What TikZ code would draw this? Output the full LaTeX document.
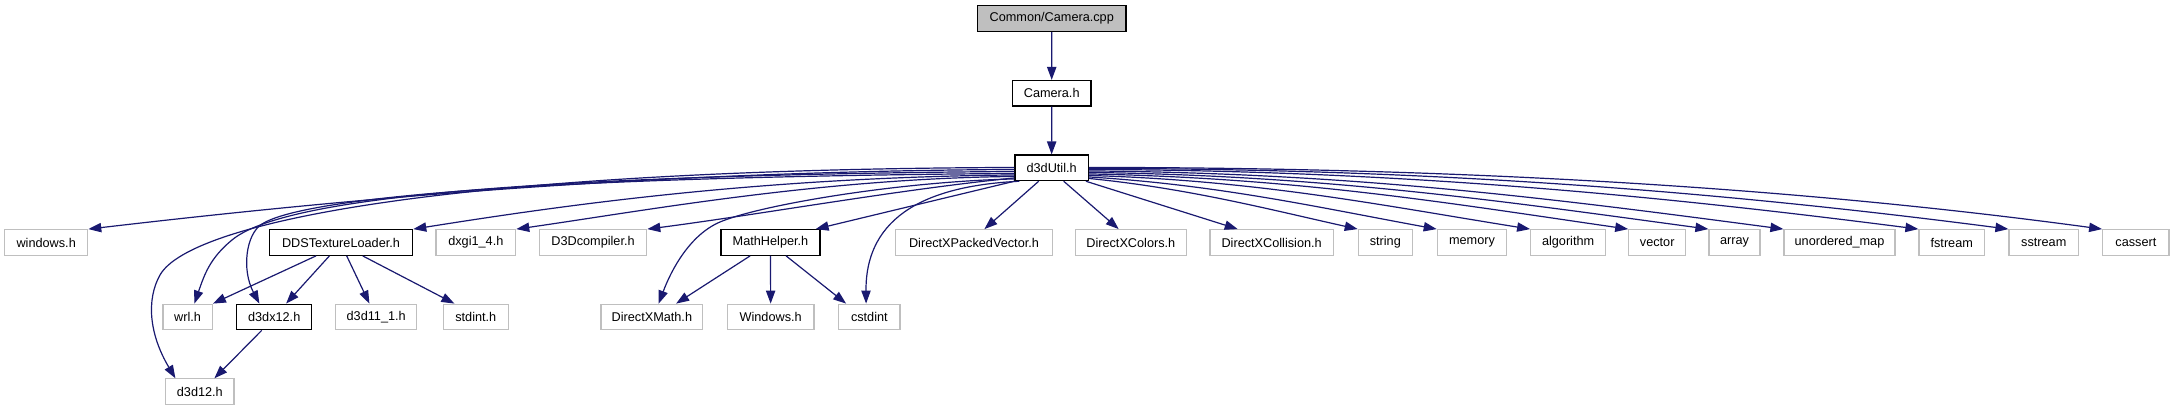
\documentclass[tikz,border=0pt]{standalone}
\usepackage{fontspec}
\setmainfont{Liberation Sans}
\usetikzlibrary{arrows.meta,calc}
\definecolor{edgeblue}{HTML}{191970}
\definecolor{grayline}{HTML}{BFBFBF}
\begin{document}
\begin{tikzpicture}[x=1pt,y=-1pt,
  box/.style={draw, line width=1.2pt, inner sep=0pt, minimum height=25.6pt, font=\fontsize{12.7}{14}\selectfont, anchor=center},
  extbox/.style={box, draw=grayline},
  intbox/.style={box, draw=black},
  rootbox/.style={box, draw=black, fill=grayline},
  dep/.style={draw=edgeblue, line width=1.2pt, -{Triangle[length=13pt,width=9.3pt]}}]
\useasboundingbox[fill=white] (0,0) rectangle (2174,411);
% row 0-2
\node[rootbox, minimum width=148.5pt] (cpp) at (1051.75,18.7) {Common/Camera.cpp};
\node[intbox, minimum width=78.6pt] (camh) at (1051.7,93.3) {Camera.h};
\node[intbox, minimum width=73.3pt] (d3d) at (1051.65,167.85) {d3dUtil.h};
% row 3
\node[extbox, minimum width=83pt] (windows) at (46.2,242.5) {windows.h};
\node[intbox, minimum width=143.4pt] (dds) at (341,242.5) {DDSTextureLoader.h};
\node[extbox, minimum width=79.7pt] (dxgi) at (475.85,242.5) {dxgi1\_4.h};
\node[extbox, minimum width=107.4pt] (d3dc) at (593,242.5) {D3Dcompiler.h};
\node[intbox, minimum width=99pt] (mh) at (770.5,242.5) {MathHelper.h};
\node[extbox, minimum width=156.6pt] (dxpv) at (974,242.5) {DirectXPackedVector.h};
\node[extbox, minimum width=111pt] (dxcol) at (1130.8,242.5) {DirectXColors.h};
\node[extbox, minimum width=123.3pt] (dxcoll) at (1271.65,242.5) {DirectXCollision.h};
\node[extbox, minimum width=54pt] (string) at (1385.3,242.5) {string};
\node[extbox, minimum width=69.4pt] (memory) at (1472,242.5) {memory};
\node[extbox, minimum width=74.8pt] (algorithm) at (1568.1,242.5) {algorithm};
\node[extbox, minimum width=56.8pt] (vector) at (1657.2,242.5) {vector};
\node[extbox, minimum width=51pt] (array) at (1734.5,242.5) {array};
\node[extbox, minimum width=111pt] (umap) at (1839.5,242.5) {unordered\_map};
\node[extbox, minimum width=65.5pt] (fstream) at (1951.75,242.5) {fstream};
\node[extbox, minimum width=69.5pt] (sstream) at (2043.75,242.5) {sstream};
\node[extbox, minimum width=66.3pt] (cassert) at (2135.85,242.5) {cassert};
% row 4
\node[extbox, minimum width=49.3pt] (wrl) at (187.65,317) {wrl.h};
\node[intbox, minimum width=75pt] (d3dx12) at (274.2,317) {d3dx12.h};
\node[extbox, minimum width=81pt] (d3d11) at (376.2,317) {d3d11\_1.h};
\node[extbox, minimum width=65pt] (stdint) at (475.8,317) {stdint.h};
\node[extbox, minimum width=101.7pt] (dxmath) at (651.85,317) {DirectXMath.h};
\node[extbox, minimum width=86.7pt] (winh) at (770.65,317) {Windows.h};
\node[extbox, minimum width=61.3pt] (cstdint) at (869.35,317) {cstdint};
% row 5
\node[extbox, minimum width=68.3pt] (d3d12) at (199.85,391.7) {d3d12.h};
% top chain
\draw[dep] (cpp.south) -- (camh.north);
\draw[dep] (camh.south) -- (d3d.north);
% d3dUtil -> left
\draw[dep] ($(d3d.north west)+(0,15)$) .. controls +(-365,2) and +(262.3,-30.7) .. (windows.north east);
\draw[dep] ($(d3d.north west)+(0,13)$) .. controls +(-565,2) and +(30,-53) .. (160,275)
  .. controls +(-14,25) and +(-26,-43.7) .. ($(d3d12.north west)+(10.3,0)$);
\draw[dep] ($(d3d.north west)+(0,17)$) .. controls +(-515,4) and +(48,-40) .. (232,240)
  .. controls +(-22,18) and +(10,-29) .. ($(wrl.north west)+(32,0)$);
\draw[dep] ($(d3d.north west)+(0,19)$) .. controls +(-515,4) and +(38,-24) .. (262,224)
  .. controls +(-16,10) and +(-18,-34) .. ($(d3dx12.north west)+(23.3,0)$);
\draw[dep] ($(d3d.north west)+(0,20.5)$) .. controls +(-265,2.5) and +(137.3,-21.7) .. (dds.north east);
\draw[dep] ($(d3d.north west)+(0,22)$) .. controls +(-195,2) and +(124.3,-17.7) .. (dxgi.north east);
\draw[dep] ($(d3d.north west)+(0,23.5)$) .. controls +(-115,11.5) and +(113.3,-14.7) .. (d3dc.north east);
\draw[dep] ($(d3d.north west)+(0,24.5)$) .. controls +(-115,2.5) and +(40,-17) .. (720,222)
  .. controls +(-30,12.75) and +(12.7,-34) .. ($(dxmath.north west)+(58.3,0)$);
\draw[dep] (d3d.south west) -- ($(mh.north east)+(-5,0)$);
\draw[dep] ($(d3d.south west)+(5,0)$) .. controls +(-90,4.3) and +(-0.7,-89) .. ($(cstdint.north west)+(28,0)$);
% d3dUtil -> right
\draw[dep] ($(d3d.south west)+(24.3,0)$) -- ($(dxpv.north west)+(89.3,0)$);
\draw[dep] ($(d3d.south west)+(49.3,0)$) -- ($(dxcol.north west)+(44,0)$);
\draw[dep] ($(d3d.south east)+(-3,0)$) -- ($(dxcoll.north west)+(28.3,0)$);
\draw[dep] ($(d3d.north east)+(0,24)$) .. controls +(100,10) and +(-90,-20) .. (string.north west);
\draw[dep] ($(d3d.north east)+(0,22.5)$) .. controls +(130,8) and +(-120,-22) .. (memory.north west);
\draw[dep] ($(d3d.north east)+(0,21)$) .. controls +(170,5) and +(-150,-24) .. (algorithm.north west);
\draw[dep] ($(d3d.north east)+(0,19.5)$) .. controls +(210,4) and +(-180,-26) .. (vector.north west);
\draw[dep] ($(d3d.north east)+(0,18)$) .. controls +(240,3) and +(-200,-27) .. (array.north west);
\draw[dep] ($(d3d.north east)+(0,16.5)$) .. controls +(270,2) and +(-220,-29) .. (umap.north west);
\draw[dep] ($(d3d.north east)+(0,15)$) .. controls +(320,1) and +(-250,-32) .. (fstream.north west);
\draw[dep] ($(d3d.north east)+(0,14)$) .. controls +(360,0) and +(-270,-35) .. (sstream.north west);
\draw[dep] ($(d3d.north east)+(0,13)$) .. controls +(405,0) and +(-280,-38) .. (cassert.north west);
% DDSTextureLoader.h
\draw[dep] ($(dds.south west)+(47.3,0)$) -- (wrl.north east);
\draw[dep] ($(dds.south west)+(60.7,0)$) -- ($(d3dx12.north west)+(50,0)$);
\draw[dep] ($(dds.south west)+(78,0)$) -- ($(d3d11.north west)+(34.3,0)$);
\draw[dep] ($(dds.south west)+(94,0)$) -- ($(stdint.north west)+(11.7,0)$);
% MathHelper.h
\draw[dep] ($(mh.south west)+(29.7,0)$) -- ($(dxmath.north west)+(75.7,0)$);
\draw[dep] (mh.south) -- (winh.north);
\draw[dep] ($(mh.south west)+(65.7,0)$) -- ($(cstdint.north west)+(8,0)$);
% d3dx12.h
\draw[dep] ($(d3dx12.south west)+(25.6,0)$) -- ($(d3d12.north west)+(49.3,0)$);
\end{tikzpicture}
\end{document}
